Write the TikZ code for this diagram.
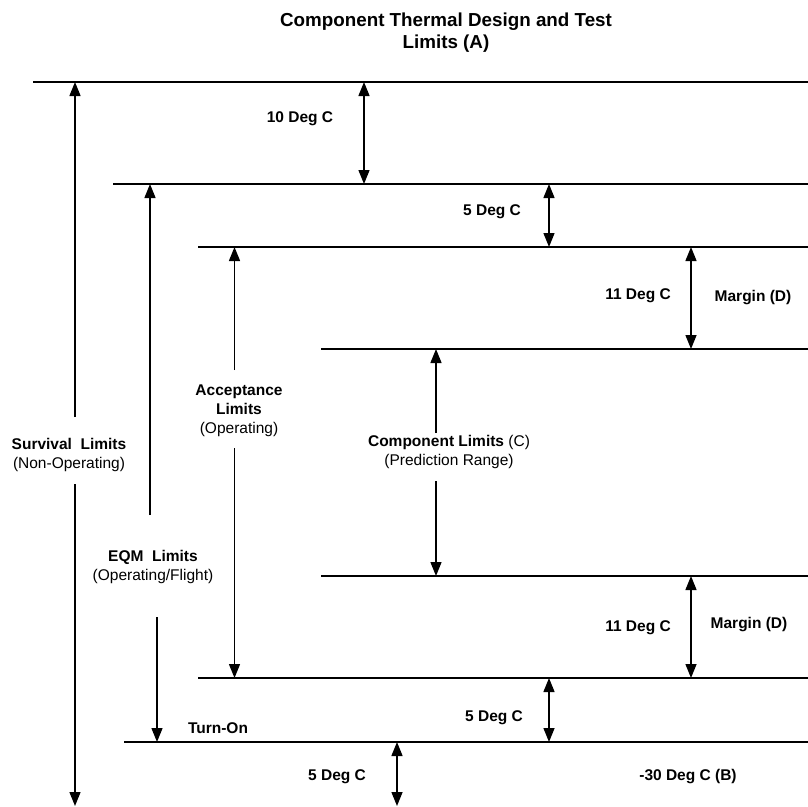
\documentclass[tikz,border=0pt]{standalone}
\usepackage{fontspec}
\setmainfont{Liberation Sans}
\usetikzlibrary{arrows.meta}

\begin{document}
\begin{tikzpicture}[
    x=1pt, y=-1pt,
    every node/.style={font=\fontsize{15.5}{19}\selectfont, inner sep=0pt},
    lbl/.style={font=\fontsize{15.5}{19}\selectfont\bfseries},
    note/.style={align=center},
    title/.style={align=center, font=\fontsize{18.8}{22}\selectfont\bfseries},
    level/.style={line width=2pt},
    arr/.style={-{Triangle[length=14pt, width=11pt]}, line width=1.4pt},
    darr/.style={{Triangle[length=14pt, width=11pt]}-{Triangle[length=14pt, width=11pt]}, line width=1.4pt}
]
    \useasboundingbox (0,0) rectangle (808,806);
    \coordinate (edge) at (808,806);
    \coordinate (survTop) at (33,82);
    \coordinate (eqmTop) at (113,184);
    \coordinate (accTop) at (198,247);
    \coordinate (compTop) at (321,349);
    \coordinate (compBot) at (321,576);
    \coordinate (accBot) at (198,678);
    \coordinate (turnOn) at (124,742);
    \foreach \lv in {survTop, eqmTop, accTop, compTop, compBot, accBot, turnOn}
        \draw[level] (\lv) -- (\lv -| edge);

    \node[title] (title) at (446,33) {Component Thermal Design and Test\\Limits (A)};
    \node[lbl] (deg10) at (300,119) {10 Deg C};
    \node[lbl] (deg5a) at (492,212) {5 Deg C};
    \node[lbl] (deg11a) at (638,296) {11 Deg C};
    \node[lbl] (margA) at (753,298) {Margin (D)};
    \node[lbl] (deg11b) at (638,628) {11 Deg C};
    \node[lbl] (margB) at (749,625) {Margin (D)};
    \node[lbl] (deg5b) at (494,718) {5 Deg C};
    \node[lbl] (turn) at (218,728) {Turn-On};
    \node[lbl] (deg5c) at (337,777) {5 Deg C};
    \node[lbl] (low) at (688,777) {-30 Deg C (B)};
    \node[note] (survival) at (69,455) {\textbf{Survival\ \ Limits}\\(Non-Operating)};
    \node[note] (accept) at (239,411) {\textbf{Acceptance}\\\textbf{Limits}\\(Operating)};
    \node[note] (comp) at (449,452) {\textbf{Component Limits} (C)\\(Prediction Range)};
    \node[note] (eqm) at (153,567) {\textbf{EQM\ \ Limits}\\(Operating/Flight)};

    \coordinate (survA) at (75,417);
    \coordinate (survB) at (75,484);
    \coordinate (eqmA) at (150,515);
    \coordinate (eqmB) at (157,617);
    \coordinate (accA) at (234.5,370);
    \coordinate (accB) at (234.5,448);
    \coordinate (compA) at (436,433);
    \coordinate (compB) at (436,481);
    \draw[arr] (survA) -- (survA |- survTop);
    \draw[arr] (survB) -- (survB |- edge);
    \draw[arr] (eqmA) -- (eqmA |- eqmTop);
    \draw[arr] (eqmB) -- (eqmB |- turnOn);
    \draw[arr] (accA) -- (accA |- accTop);
    \draw[arr] (accB) -- (accB |- accBot);
    \draw[arr] (compA) -- (compA |- compTop);
    \draw[arr] (compB) -- (compB |- compBot);

    \foreach \x/\a/\b in {364/survTop/eqmTop, 549/eqmTop/accTop, 691/accTop/compTop,
                          691/compBot/accBot, 549/accBot/turnOn, 397/turnOn/edge}
        \draw[darr] (\x,0 |- \a) -- (\x,0 |- \b);
\end{tikzpicture}
\end{document}
